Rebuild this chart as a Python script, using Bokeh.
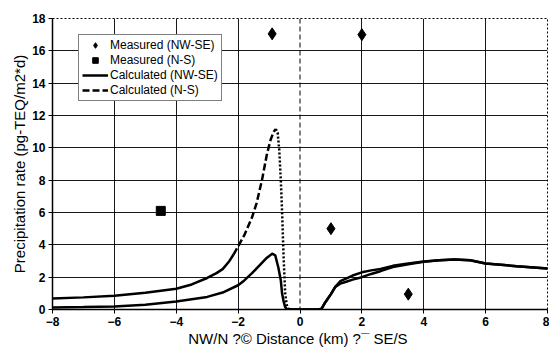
from bokeh.plotting import figure
from bokeh.models import Range1d, FixedTicker, Span, Legend, LegendItem
from bokeh.embed import file_html
from bokeh.resources import INLINE

# Measured data
meas_nwse_x = [-0.9, 2.0, 1.0, 3.5]
meas_nwse_y = [17.05, 17.0, 5.0, 0.95]
meas_ns_x = [-4.5]
meas_ns_y = [6.1]

# Calculated N-S
calc_ns_x = [-8, -7, -6, -5, -4, -3.5, -3, -2.7, -2.5, -2.3, -2.15, -2, -1.8, -1.55, -1.4, -1.23, -1.07,
             -0.95, -0.85, -0.78, -0.72, -0.67, -0.62, -0.58, -0.53, -0.48, -0.43, -0.39, -0.3, 0, 0.3,
             0.6, 0.7, 0.82, 1.0, 1.14, 1.3, 1.47, 1.7, 2, 2.3, 2.6, 3, 3.5, 4, 4.5, 5, 5.5, 6, 7, 8]
calc_ns_y = [0.68, 0.75, 0.85, 1.03, 1.28, 1.55, 1.95, 2.25, 2.5, 2.95, 3.4, 3.9, 4.6, 5.7, 6.6, 8.0, 9.6,
             10.5, 11.0, 11.17, 10.9, 9.85, 8.0, 6.1, 3.25, 1.0, 0.3, 0.05, 0.0, 0.0, 0.0,
             0.0, 0.05, 0.45, 0.95, 1.4, 1.75, 1.9, 2.1, 2.3, 2.42, 2.5, 2.7, 2.85, 2.97, 3.05, 3.1, 3.05,
             2.85, 2.68, 2.53]

# Calculated NW-SE
calc_nwse_x = [-8, -7, -6, -5, -4, -3, -2.5, -2, -1.8, -1.55, -1.3, -1.1, -0.9, -0.8, -0.7, -0.62, -0.58,
               -0.53, -0.48, -0.42, -0.3, 0, 0.3, 0.6, 0.7, 0.82, 1.0, 1.14, 1.3, 1.47, 1.7, 2, 2.3, 2.6,
               3, 3.5, 4, 4.5, 5, 5.5, 6, 7, 8]
calc_nwse_y = [0.12, 0.15, 0.19, 0.3, 0.5, 0.78, 1.05, 1.5, 1.8, 2.25, 2.75, 3.15, 3.45, 3.35, 2.6, 1.8, 1.0,
               0.5, 0.15, 0.03, 0.0, 0.0, 0.0, 0.0, 0.05, 0.45, 0.95, 1.4, 1.6, 1.7, 1.85, 2.0, 2.2, 2.37,
               2.62, 2.8, 2.95, 3.05, 3.1, 3.05, 2.85, 2.68, 2.53]

x_ticks = [-8, -6, -4, -2, 0, 2, 4, 6, 8]
y_ticks = [0, 2, 4, 6, 8, 10, 12, 14, 16, 18]

FONT = "Liberation Sans"

p = figure(width=549, height=351, output_backend="svg", toolbar_location=None,
           x_range=Range1d(-8, 8), y_range=Range1d(0, 18),
           min_border_left=52, min_border_right=2, min_border_top=18, min_border_bottom=42)
p.background_fill_color = "white"
p.outline_line_color = "black"
p.outline_line_dash = "2 2"
p.outline_line_width = 1

p.xaxis.ticker = FixedTicker(ticks=x_ticks)
p.yaxis.ticker = FixedTicker(ticks=y_ticks)
p.xgrid.ticker = FixedTicker(ticks=[t for t in x_ticks if t != 0])
p.ygrid.ticker = FixedTicker(ticks=y_ticks)
p.xgrid.grid_line_color = "black"
p.ygrid.grid_line_color = "black"
p.xgrid.grid_line_alpha = 0.9
p.ygrid.grid_line_alpha = 0.9
p.add_layout(Span(location=0, dimension="height", line_color="black", line_dash="5 3", line_width=1))

for ax in (p.xaxis[0], p.yaxis[0]):
    ax.axis_line_color = "black"
    ax.axis_line_width = 1.5
    ax.major_tick_in = 0
    ax.major_tick_out = 4
    ax.minor_tick_line_color = None
    ax.major_label_text_font = FONT
    ax.major_label_text_font_size = "12px"
    ax.major_label_text_font_style = "bold"
    ax.major_label_text_color = "black"
    ax.axis_label_text_font = FONT
    ax.axis_label_text_font_size = "15px"
    ax.axis_label_text_font_style = "normal"
    ax.axis_label_text_color = "black"

p.xaxis.major_label_standoff = 3
p.xaxis.axis_label_standoff = 1
p.yaxis.major_label_standoff = 3
p.yaxis.axis_label_standoff = 1
p.xaxis.axis_label = "NW/N ?© Distance (km)  ?¯ SE/S"
p.yaxis.axis_label = "Precipitation rate (pg-TEQ/m2*d)"

# Calculated NW-SE (solid)
r_nwse = p.line(calc_nwse_x, calc_nwse_y, line_color="black", line_width=2.5)

# Calculated N-S: solid tail, dashed rise, dotted fall, solid right
i_a = calc_ns_x.index(-2.15)
i_pk = calc_ns_x.index(-0.78)
i_b = calc_ns_x.index(-0.39)
p.line(calc_ns_x[:i_a + 1], calc_ns_y[:i_a + 1], line_color="black", line_width=2.5)
r_ns = p.line(calc_ns_x[i_a:i_pk + 1], calc_ns_y[i_a:i_pk + 1], line_color="black", line_width=2.5,
              line_dash="7 3")
p.line(calc_ns_x[i_pk:i_b + 1], calc_ns_y[i_pk:i_b + 1], line_color="black", line_width=2.5,
       line_dash="2 2")
p.line(calc_ns_x[i_b:], calc_ns_y[i_b:], line_color="black", line_width=2.5)

r_m1 = p.scatter(meas_nwse_x, meas_nwse_y, marker="diamond", size=12, color="black")
r_m2 = p.scatter(meas_ns_x, meas_ns_y, marker="square", size=9, color="black")

legend = Legend(items=[
    LegendItem(label="Measured (NW-SE)", renderers=[r_m1]),
    LegendItem(label="Measured (N-S)", renderers=[r_m2]),
    LegendItem(label="Calculated (NW-SE)", renderers=[r_nwse]),
    LegendItem(label="Calculated (N-S)", renderers=[r_ns]),
], location=(26, 208))
legend.label_text_font = FONT
legend.label_text_font_size = "12px"
legend.label_text_color = "black"
legend.label_height = 14
legend.label_standoff = 2
legend.glyph_height = 14
legend.glyph_width = 26
legend.spacing = 1
legend.padding = 3
legend.margin = 0
legend.border_line_color = "black"
legend.border_line_width = 1.5
legend.background_fill_color = "white"
legend.background_fill_alpha = 1
p.add_layout(legend, "center")

open("out.html", "w").write(file_html(p, INLINE))
